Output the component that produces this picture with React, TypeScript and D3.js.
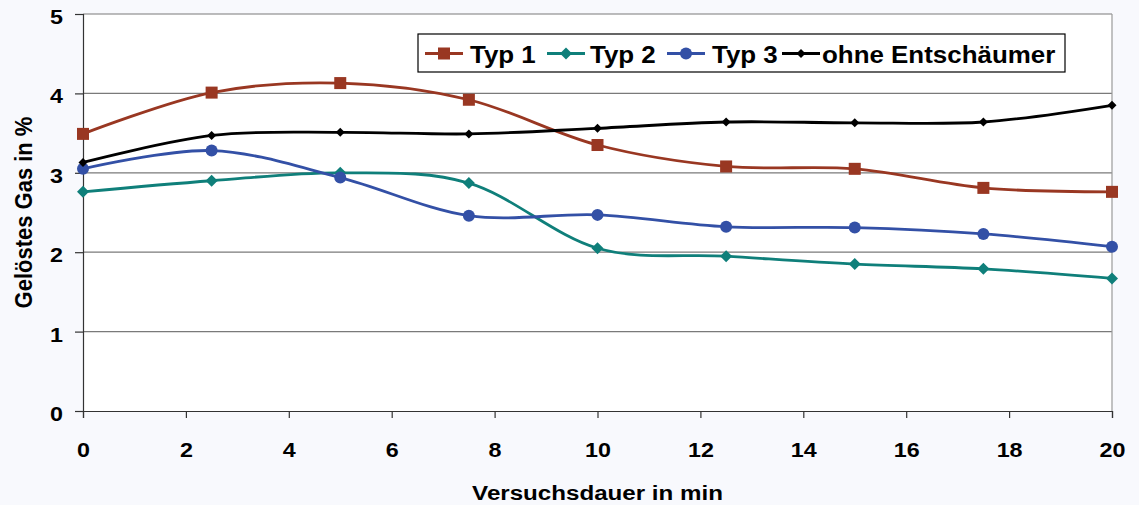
import { useEffect, useRef } from 'react';
import * as d3 from 'd3';

const minutes = [0, 2.5, 5, 7.5, 10, 12.5, 15, 17.5, 20];
const typ1 = [3.49, 4.01, 4.13, 3.92, 3.35, 3.08, 3.05, 2.81, 2.76];
const typ2 = [2.76, 2.9, 3.0, 2.87, 2.05, 1.95, 1.85, 1.79, 1.67];
const typ3 = [3.05, 3.28, 2.94, 2.46, 2.47, 2.32, 2.31, 2.23, 2.07];
const ohne = [3.13, 3.47, 3.51, 3.49, 3.56, 3.64, 3.63, 3.64, 3.85];
const xTicks = [0, 2, 4, 6, 8, 10, 12, 14, 16, 18, 20];
const yTicks = [0, 1, 2, 3, 4, 5];
const seriesNames = ['Typ 1', 'Typ 2', 'Typ 3', 'ohne Entschäumer'];

const series = [
  { name: seriesNames[0], values: typ1, color: '#993722', marker: 'square', size: 12 },
  { name: seriesNames[1], values: typ2, color: '#0f7f7a', marker: 'diamond', size: 12 },
  { name: seriesNames[2], values: typ3, color: '#3350a6', marker: 'circle', size: 12 },
  { name: seriesNames[3], values: ohne, color: '#000000', marker: 'diamond', size: 9 },
];

const W = 1139;
const H = 505;
const margin = { left: 83, right: 27, top: 14, bottom: 94 };
const font = 'Liberation Sans, Arial, sans-serif';
const SX = 1.11; // the original's text is slightly wide

const App = () => {
  const ref = useRef<SVGSVGElement>(null!);

  useEffect(() => {
    const svg = d3.select(ref.current);
    svg.selectAll('*').remove();

    const x = d3.scaleLinear().domain([0, 20]).range([margin.left, W - margin.right]);
    const y = d3.scaleLinear().domain([0, 5]).range([H - margin.bottom, margin.top]);

    svg.append('rect').attr('width', W).attr('height', H).attr('fill', '#f8f9fd');
    svg
      .append('rect')
      .attr('x', x(0))
      .attr('y', y(5))
      .attr('width', x(20) - x(0))
      .attr('height', y(0) - y(5))
      .attr('fill', '#ffffff');

    // gridlines
    svg
      .append('g')
      .selectAll('line')
      .data(yTicks.filter(d => d > 0))
      .enter()
      .append('line')
      .attr('x1', x(0))
      .attr('x2', x(20))
      .attr('y1', d => y(d))
      .attr('y2', d => y(d))
      .attr('stroke', '#7a7a7a')
      .attr('stroke-width', 1.2);

    svg
      .append('line')
      .attr('x1', x(20))
      .attr('x2', x(20))
      .attr('y1', y(5))
      .attr('y2', y(0))
      .attr('stroke', '#9a9a9a')
      .attr('stroke-width', 1.2);

    // axes
    const yAxis = svg
      .append('g')
      .attr('transform', `translate(${x(0)},0)`)
      .call(d3.axisLeft(y).tickValues(yTicks).tickSize(8).tickFormat(d3.format('d')));
    const xAxis = svg
      .append('g')
      .attr('transform', `translate(0,${y(0)})`)
      .call(d3.axisBottom(x).tickValues(xTicks).tickSize(7).tickFormat(d3.format('d')));
    [yAxis, xAxis].forEach(a => {
      a.selectAll('path').attr('stroke', '#333').attr('stroke-width', 1.2);
      a.selectAll('line').attr('stroke', '#333').attr('stroke-width', 1.2);
      a.selectAll('text')
        .attr('font-family', font)
        .attr('font-weight', 'bold')
        .attr('font-size', 21)
        .attr('fill', '#000')
        .attr('transform', `scale(${SX},1)`);
    });
    yAxis.selectAll('text').attr('x', -20 / SX).attr('dy', '0.45em');
    xAxis.selectAll('text').attr('y', 46).attr('dy', 0);

    // titles
    svg
      .append('text')
      .attr('transform', `translate(${(x(0) + x(20)) / 2},500) scale(1.15,1)`)
      .attr('text-anchor', 'middle')
      .attr('font-family', font)
      .attr('font-weight', 'bold')
      .attr('font-size', 21)
      .text('Versuchsdauer in min');
    svg
      .append('text')
      .attr('transform', `translate(32,${(y(0) + y(5)) / 2}) rotate(-90) scale(1,1.1)`)
      .attr('text-anchor', 'middle')
      .attr('font-family', font)
      .attr('font-weight', 'bold')
      .attr('font-size', 22)
      .text('Gelöstes Gas in %');

    const line = d3
      .line<number>()
      .x((_, i) => x(minutes[i]))
      .y(d => y(d))
      .curve(d3.curveCardinal.tension(0));

    const drawMarker = (g: any, s: any, cx: number, cy: number) => {
      const r = s.size / 2;
      if (s.marker === 'square') {
        g.append('rect')
          .attr('x', cx - r)
          .attr('y', cy - r)
          .attr('width', s.size)
          .attr('height', s.size)
          .attr('fill', s.color);
      } else if (s.marker === 'circle') {
        g.append('circle').attr('cx', cx).attr('cy', cy).attr('r', r).attr('fill', s.color);
      } else {
        g.append('path')
          .attr('d', `M${cx},${cy - r}L${cx + r},${cy}L${cx},${cy + r}L${cx - r},${cy}Z`)
          .attr('fill', s.color);
      }
    };

    const plot = svg.append('g');
    series.forEach(s => {
      plot
        .append('path')
        .attr('d', line(s.values))
        .attr('fill', 'none')
        .attr('stroke', s.color)
        .attr('stroke-width', 2.8);
    });
    series.forEach(s => {
      const g = plot.append('g');
      s.values.forEach((v, i) => drawMarker(g, s, x(minutes[i]), y(v)));
    });

    // legend
    const lg = svg.append('g');
    lg.append('rect')
      .attr('x', 418)
      .attr('y', 34)
      .attr('width', 647)
      .attr('height', 38)
      .attr('fill', '#fff')
      .attr('stroke', '#000')
      .attr('stroke-width', 1.2);
    const legendX = [425, 547, 667, 782];
    const legendTextX = [470, 590, 712, 822];
    series.forEach((s, i) => {
      const lx = legendX[i];
      const ly = 53.5;
      lg.append('line')
        .attr('x1', lx)
        .attr('x2', lx + 38)
        .attr('y1', ly)
        .attr('y2', ly)
        .attr('stroke', s.color)
        .attr('stroke-width', 2.8);
      drawMarker(lg, s, lx + 19, ly);
      lg.append('text')
        .attr('transform', `translate(${legendTextX[i]},63) scale(1.08,1)`)
        .attr('font-family', font)
        .attr('font-weight', 'bold')
        .attr('font-size', 24)
        .text(s.name);
    });
  }, []);

  return (
    <svg
      ref={ref}
      width={W}
      height={H}
      style={{ position: 'absolute', left: 0, top: 0, display: 'block' }}
    ></svg>
  );
};

export default App;
